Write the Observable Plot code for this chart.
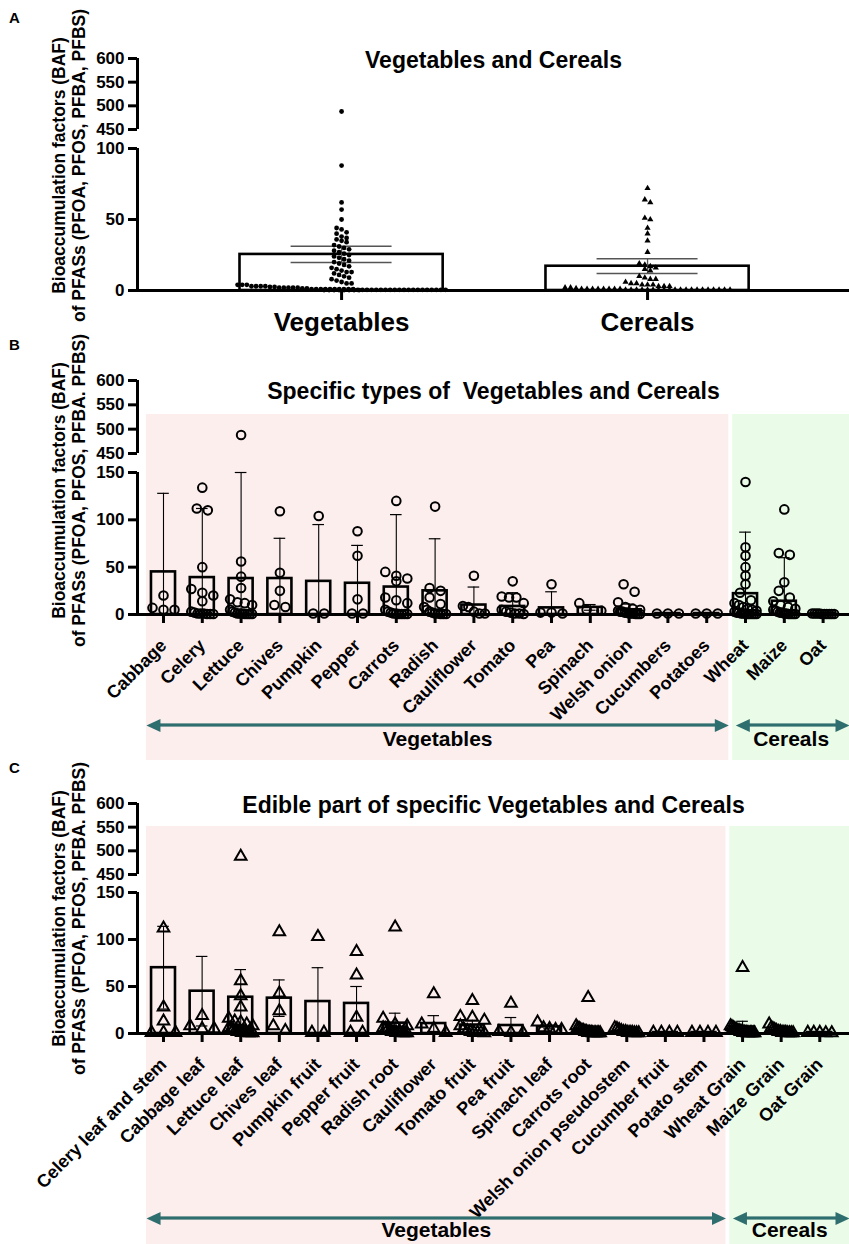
<!DOCTYPE html>
<html><head><meta charset="utf-8">
<script src="https://cdn.jsdelivr.net/npm/d3@7"></script>
<script src="https://cdn.jsdelivr.net/npm/@observablehq/plot@0.6"></script>
<style>
html,body{margin:0;padding:0;background:#fff;}
#page{position:relative;width:849px;height:1244px;overflow:hidden;font-family:'Liberation Sans',Arial,Helvetica,sans-serif;}
.panel{position:absolute;left:0;}
.letter{position:absolute;left:9px;font-weight:bold;font-size:15px;color:#000;}
</style></head><body><div id="page"></div>
<script>
// ================= DATA =================
// Panel A
const aCategories = ["Vegetables", "Cereals"];
const aMeans = [25.4, 17.1];
const aErrors = [5.7, 5.2];
const aVegetablePoints = [488, 88, 62, 57, 50, 44, 43, 41, 40, 38, 37, 36, 35, 34, 32, 31, 30, 29, 28, 27, 26, 25, 24, 23, 22, 21, 20, 19, 18, 17, 16, 15, 14, 13, 13, 12, 11, 10, 9, 8, 7, 6, 5, 5, 4, 4, 4, 3, 3, 3, 3, 2.5, 2.5, 2, 2, 2, 2, 2, 1.5, 1.5, 1, 1, 1, 1, 1, 1, 1, 1, 1, 1, 0.5, 0.5, 0.5, 0.5, 0.5, 0.5, 0.5, 0.5, 0.5, 0.5, 0.5, 0.5, 0.5, 0.5, 0.5, 0.5, 0.5, 0.5, 0.5, 0.5, 0.3, 0.3, 0.3, 0.3, 0.3, 0.3, 0.3, 0.3];
const aCerealPoints = [72, 64, 62, 51, 50, 44, 40, 35, 27, 19, 18, 17, 16, 15, 14, 10, 9, 8, 8, 6, 5, 5, 4, 4, 4, 3, 3, 3, 2, 2, 1.5, 1, 1, 1, 1, 1, 1, 1, 1, 0.5, 0.5, 0.5, 0.5, 0.5, 0.5, 0.5, 0.5, 0.5, 0.5, 0.5, 0.5, 0.5, 0.5, 0.5, 0.5, 0.5, 0.5, 0.5, 0.5];
const aTicks = [0, 50, 100, 450, 500, 550, 600];
const aYBreak = [100, 450];

// Panel B
const bCategories = ["Cabbage", "Celery", "Lettuce", "Chives", "Pumpkin", "Pepper", "Carrots", "Radish", "Cauliflower", "Tomato", "Pea", "Spinach", "Welsh onion", "Cucumbers", "Potatoes", "Wheat", "Maize", "Oat"];
const bGroups = ["Vegetables", "Vegetables", "Vegetables", "Vegetables", "Vegetables", "Vegetables", "Vegetables", "Vegetables", "Vegetables", "Vegetables", "Vegetables", "Vegetables", "Vegetables", "Vegetables", "Vegetables", "Cereals", "Cereals", "Cereals"];
const bMeans = [45, 39, 38, 38, 35, 33, 29, 25, 10, 8.5, 7, 7.5, 5, 1, 1, 22, 14, 1];
const bSD = [83, 73, 112, 42.5, 60, 40, 76.5, 55, 19, 14.5, 17, 3, 6, 0.3, 0.3, 65, 46, 0.5];
const bPoints = [
  [20, 7, 5, 5],
  [134, 112, 110, 50, 27, 23, 20, 14, 3, 2, 1, 1, 1, 0.5, 0.5, 0.5],
  [488, 56, 40, 28, 16, 13, 12, 10, 5, 3, 2, 1, 1, 1, 0.5, 0.5, 0.5, 0.5],
  [109, 44, 25, 10, 8],
  [104, 1, 1],
  [88, 62, 16, 1, 1],
  [120, 45, 41, 38, 35, 18, 15, 12, 5, 3, 2, 1, 1, 0.5, 0.5, 0.5, 0.5],
  [114, 28, 25, 18, 11, 8, 5, 3, 2, 1, 1, 0.5, 0.5, 0.5],
  [41, 9, 8, 3, 1, 1],
  [35, 19, 18, 18, 12, 5, 3, 2, 1, 1, 0.5],
  [32, 2, 2, 1],
  [12, 5, 4, 4],
  [32, 24, 13, 8, 6, 5, 4, 3, 3, 2, 2, 1, 1, 1, 0.5, 0.5, 0.5],
  [1, 1, 1],
  [1, 1, 1],
  [140, 71, 62, 50, 41, 32, 23, 15, 12, 10, 8, 6, 5, 4, 3, 2, 2, 1, 1, 1, 0.5, 0.5, 0.5, 0.5, 0.5],
  [111, 65, 63, 34, 25, 18, 14, 10, 8, 6, 5, 4, 3, 2, 2, 1, 1, 0.5, 0.5, 0.5, 0.5],
  [1, 1, 1, 1, 0.5, 0.5, 0.5, 0.5, 0.5, 0.5]
];

// Panel C
const cCategories = ["Celery leaf and stem", "Cabbage leaf", "Lettuce leaf", "Chives leaf", "Pumpkin fruit", "Pepper fruit", "Radish root", "Cauliflower", "Tomato fruit", "Pea fruit", "Spinach leaf", "Carrots root", "Welsh onion pseudostem", "Cucumber fruit", "Potato stem", "Wheat Grain", "Maize Grain", "Oat Grain"];
const cGroups = bGroups;
const cMeans = [70, 45, 38.6, 37.6, 34, 32, 11, 10.6, 9, 8.5, 7, 4, 2.5, 1, 1, 6.7, 3, 1];
const cSD = [44, 37, 29.4, 19.4, 36, 18, 10.6, 8.4, 5, 8.5, 2, 4, 2, 0.3, 0.3, 6.3, 3, 0.3];
const cPoints = [
  [112, 28, 13, 1, 1, 1],
  [19, 8, 5, 5],
  [488, 56, 40, 28, 16, 13, 12, 10, 8, 6, 5, 4, 3, 2, 2, 1, 1, 1, 0.5, 0.5, 0.5],
  [108, 43, 24, 8, 3],
  [103, 1, 1],
  [87, 62, 17, 1, 1],
  [113, 16, 10, 8, 6, 5, 4, 3, 2, 2, 1, 1, 1, 0.5, 0.5, 0.5],
  [42, 10, 5, 1],
  [35, 18, 17, 14, 8, 5, 3, 2, 1, 1, 1, 0.5],
  [32, 2, 1, 1],
  [12, 6, 5, 4, 4],
  [38, 8, 6, 5, 4, 3, 3, 2, 2, 1, 1, 1, 0.5, 0.5, 0.5, 0.5, 0.5, 0.5],
  [6, 5, 4, 3, 2, 2, 1, 1, 1, 0.5, 0.5, 0.5],
  [1, 1, 1, 1],
  [1, 1, 1, 1],
  [70, 8, 7, 6, 5, 4, 3, 3, 2, 2, 1, 1, 1, 0.5, 0.5, 0.5, 0.5, 0.5, 0.5],
  [10, 6, 5, 4, 3, 2, 2, 1, 1, 1, 0.5, 0.5, 0.5, 0.5],
  [1, 1, 1, 0.5, 0.5]
];
const bcTicks = [0, 50, 100, 150, 450, 500, 550, 600];
const bcYBreak = [150, 450];

const titles = ["Vegetables and Cereals", "Specific types of  Vegetables and Cereals", "Edible part of specific Vegetables and Cereals"];
const yLabelA = "Bioaccumulation factors (BAF)\nof PFASs (PFOA, PFOS, PFBA, PFBS)";
const yLabelBC = "Bioaccumulation factors (BAF)\nof PFASs (PFOA, PFOS, PFBA. PFBS)";
const panelLetters = ["A", "B", "C"];

// ================= STYLE / LAYOUT =================
const W = 849;
const FONT = "'Liberation Sans', Arial, Helvetica, sans-serif";
const TEAL = "#2f6e6e";
const BAND_FILL = {Vegetables: "#fdeeee", Cereals: "#eafbe8"};

function svgStyle() {
  return {background: "transparent", overflow: "visible", fontFamily: FONT, fontWeight: "bold", color: "#000"};
}

// GraphPad-like scatter: rows of nearby values spread side by side, limited to a max half-width
function pointLayout(values, idx, yPx, pxPerX, spacing, maxHalf, rowTol) {
  const sorted = values.slice().sort((a, b) => b - a);
  const rows = [];
  for (const v of sorted) {
    const p = yPx(v);
    const row = rows[rows.length - 1];
    if (row && Math.abs(p - row.start) < rowTol) row.vals.push(v);
    else rows.push({start: p, vals: [v]});
  }
  const out = [];
  for (const row of rows) {
    const n = row.vals.length;
    const s = n > 1 ? Math.min(spacing, (2 * maxHalf) / (n - 1)) : 0;
    row.vals.forEach((v, k) => out.push({x: idx + ((k - (n - 1) / 2) * s) / pxPerX, y: v}));
  }
  return out;
}

function yDomainFrom(ticks, brk) { return [ticks[0], brk[0], brk[1], ticks[ticks.length - 1]]; }

const headLeft = {draw(ctx) { ctx.moveTo(0, 0); ctx.lineTo(14, -6.5); ctx.lineTo(14, 6.5); ctx.closePath(); }};
const headRight = {draw(ctx) { ctx.moveTo(0, 0); ctx.lineTo(-14, -6.5); ctx.lineTo(-14, 6.5); ctx.closePath(); }};

// ================= PANEL A =================
function drawA() {
  const height = 335;
  const yDomain = yDomainFrom(aTicks, aYBreak);
  const yRange = [290, 148, 129, 58];
  const xDomain = [-0.667, 1.66];
  const xRange = [137, W];
  const yPx = d3.scaleLinear().domain(yDomain).range(yRange);
  const pxPerX = (xRange[1] - xRange[0]) / (xDomain[1] - xDomain[0]);
  const bars = aCategories.map((name, i) => ({i, mean: aMeans[i], lo: aMeans[i] - aErrors[i], hi: aMeans[i] + aErrors[i]}));
  const veg = pointLayout(aVegetablePoints, 0, yPx, pxPerX, 5, 104, 5);
  const cer = pointLayout(aCerealPoints, 1, yPx, pxPerX, 5.5, 100, 5);
  const segs = [{y1: yDomain[0], y2: yDomain[1]}, {y1: yDomain[2], y2: yDomain[3]}];
  return Plot.plot({
    width: W, height,
    marginLeft: xRange[0], marginRight: W - xRange[1], marginTop: yRange[3], marginBottom: height - yRange[0],
    style: svgStyle(),
    x: {type: "linear", domain: xDomain, range: xRange},
    y: {type: "linear", domain: yDomain, range: yRange},
    marks: [
      Plot.rect(bars, {x1: d => d.i - 0.332, x2: d => d.i + 0.332, y1: () => 0, y2: "mean", fill: "none", stroke: "#000", strokeWidth: 2.6}),
      Plot.ruleX(bars, {x: "i", y1: "lo", y2: "hi", stroke: "#555", strokeWidth: 1.3}),
      Plot.ruleY(bars, {y: "hi", x1: d => d.i - 0.165, x2: d => d.i + 0.165, stroke: "#555", strokeWidth: 1.5}),
      Plot.ruleY(bars, {y: "lo", x1: d => d.i - 0.165, x2: d => d.i + 0.165, stroke: "#555", strokeWidth: 1.5}),
      Plot.dot(veg, {x: "x", y: "y", r: 2.4, fill: "#000", symbol: "circle"}),
      Plot.dot(cer, {x: "x", y: "y", r: 2.3, fill: "#000", symbol: "triangle"}),
      Plot.ruleX(segs, {x: () => xDomain[0], y1: "y1", y2: "y2", strokeWidth: 3}),
      Plot.ruleY([0], {strokeWidth: 3}),
      Plot.axisY(aTicks, {tickSize: 9, tickPadding: 4, strokeWidth: 3, fontSize: 17, fontWeight: "bold", label: null, tickFormat: d => String(d)}),
      Plot.axisX([0, 1], {tickSize: 10, tickPadding: 12, strokeWidth: 3, fontSize: 26, fontWeight: "bold", label: null, tickFormat: i => aCategories[i]}),
      Plot.text([titles[0]], {text: d => d, frameAnchor: "top", dy: 2, fontSize: 23, fontWeight: "bold", lineAnchor: "middle"}),
      Plot.text([yLabelA], {text: d => d, frameAnchor: "left", rotate: -90, dx: -69, dy: -9, fontSize: 17.5, fontWeight: "bold", lineHeight: 1.15, textAnchor: "middle", lineAnchor: "middle"})
    ]
  });
}

// ================= PANELS B / C =================
function drawBC(cfg) {
  const {categories, groups, means, sds, points, symbol, height, yRange, xDomain, title, titleDy, yLabelDy, spacing, maxHalf, rowTol, bandInsetTop, arrowDy, labelDy} = cfg;
  const yDomain = yDomainFrom(bcTicks, bcYBreak);
  const xRange = [137, W];
  const yPx = d3.scaleLinear().domain(yDomain).range(yRange);
  const pxPerX = (xRange[1] - xRange[0]) / (xDomain[1] - xDomain[0]);
  const bars = categories.map((name, i) => {
    const lo = means[i] - sds[i];
    return {i, mean: means[i], lo: Math.max(0, lo), hi: means[i] + sds[i], hasLow: lo > 0};
  });
  const pts = points.flatMap((vals, i) => pointLayout(vals, i, yPx, pxPerX, spacing, maxHalf, rowTol));
  const segs = [{y1: yDomain[0], y2: yDomain[1]}, {y1: yDomain[2], y2: yDomain[3]}];

  // group bands derived from category groups
  const names = Array.from(new Set(groups));
  const bands = names.map((name, k) => {
    const first = groups.indexOf(name), last = groups.lastIndexOf(name);
    const x1 = k === 0 ? first - 0.44 : first - 0.33;
    const x2 = k === names.length - 1 ? xDomain[1] : last + 0.57;
    return {name, x1, x2, left: k === 0 ? x1 : x1 + 0.08, right: x2, fill: BAND_FILL[name]};
  });
  const frameTop = yRange[3], frameBottom = yRange[0];
  const bandInsetBottom = -(height - frameBottom);

  return Plot.plot({
    width: W, height,
    marginLeft: xRange[0], marginRight: W - xRange[1], marginTop: frameTop, marginBottom: height - frameBottom,
    style: svgStyle(),
    x: {type: "linear", domain: xDomain, range: xRange},
    y: {type: "linear", domain: yDomain, range: yRange},
    marks: [
      Plot.rect(bands, {x1: "x1", x2: "x2", fill: "fill", insetTop: bandInsetTop, insetBottom: bandInsetBottom}),
      Plot.rect(bars, {x1: d => d.i - 0.31, x2: d => d.i + 0.31, y1: () => 0, y2: "mean", fill: "none", stroke: "#000", strokeWidth: 2.6}),
      Plot.ruleX(bars, {x: "i", y1: "lo", y2: "hi", stroke: "#000", strokeWidth: 1.1}),
      Plot.ruleY(bars, {y: "hi", x1: d => d.i - 0.15, x2: d => d.i + 0.15, stroke: "#000", strokeWidth: 1.2}),
      Plot.ruleY(bars.filter(d => d.hasLow), {y: "lo", x1: d => d.i - 0.15, x2: d => d.i + 0.15, stroke: "#000", strokeWidth: 1.2}),
      Plot.dot(pts, {x: "x", y: "y", r: 4.3, fill: "none", stroke: "#000", strokeWidth: 2, symbol}),
      Plot.ruleX(segs, {x: () => xDomain[0], y1: "y1", y2: "y2", strokeWidth: 3}),
      Plot.ruleY([0], {strokeWidth: 3}),
      Plot.axisY(bcTicks, {tickSize: 9, tickPadding: 4, strokeWidth: 3, fontSize: 17, fontWeight: "bold", label: null, tickFormat: d => String(d)}),
      Plot.axisX(d3.range(categories.length), {tickSize: 9, tickPadding: 19, strokeWidth: 3, tickRotate: -45, textAnchor: "end", lineAnchor: "middle", fontSize: 18, fontWeight: "bold", label: null, tickFormat: i => categories[i]}),
      // group arrows
      Plot.rect(bands, {x1: d => d.left + 0.2, x2: d => d.right - 0.2, fill: TEAL, insetTop: frameBottom + arrowDy - 1.6 - frameTop, insetBottom: -(arrowDy + 1.6)}),
      Plot.dot(bands, {x: "left", frameAnchor: "bottom", dy: arrowDy, r: 7, fill: TEAL, symbol: headLeft}),
      Plot.dot(bands, {x: "right", frameAnchor: "bottom", dy: arrowDy, r: 7, fill: TEAL, symbol: headRight}),
      Plot.text(bands, {x: d => (d.x1 + d.x2) / 2, text: "name", frameAnchor: "bottom", dy: labelDy, fontSize: 21, fontWeight: "bold", lineAnchor: "middle"}),
      Plot.text([title], {text: d => d, frameAnchor: "top", dy: titleDy, fontSize: 23, fontWeight: "bold", lineAnchor: "middle"}),
      Plot.text([yLabelBC], {text: d => d, frameAnchor: "left", rotate: -90, dx: -69, dy: yLabelDy, fontSize: 17.5, fontWeight: "bold", lineHeight: 1.15, textAnchor: "middle", lineAnchor: "middle"})
    ]
  });
}

// ================= ASSEMBLE =================
const page = document.getElementById("page");
const panelTops = [0, 335, 760];
const svgs = [
  drawA(),
  drawBC({categories: bCategories, groups: bGroups, means: bMeans, sds: bSD, points: bPoints, symbol: "circle",
    height: 425, yRange: [279, 137, 118, 45], xDomain: [-0.67, 17.68], title: titles[1], titleDy: 11, yLabelDy: -7,
    spacing: 11, maxHalf: 11, rowTol: 8, bandInsetTop: 34, arrowDy: 111, labelDy: 125}),
  drawBC({categories: cCategories, groups: cGroups, means: cMeans, sds: cSD, points: cPoints, symbol: "triangle",
    height: 484, yRange: [273, 132, 114, 43], xDomain: [-0.674, 17.77], title: titles[2], titleDy: 2, yLabelDy: 0,
    spacing: 12, maxHalf: 12, rowTol: 9, bandInsetTop: 23, arrowDy: 185, labelDy: 197})
];
svgs.forEach((svg, k) => {
  const holder = document.createElement("div");
  holder.className = "panel";
  holder.style.top = panelTops[k] + "px";
  holder.appendChild(svg);
  page.appendChild(holder);
});
const letterTops = [9, 336, 759];
panelLetters.forEach((t, k) => {
  const el = document.createElement("div");
  el.className = "letter";
  el.style.top = letterTops[k] + "px";
  el.textContent = t;
  page.appendChild(el);
});
</script></body></html>
